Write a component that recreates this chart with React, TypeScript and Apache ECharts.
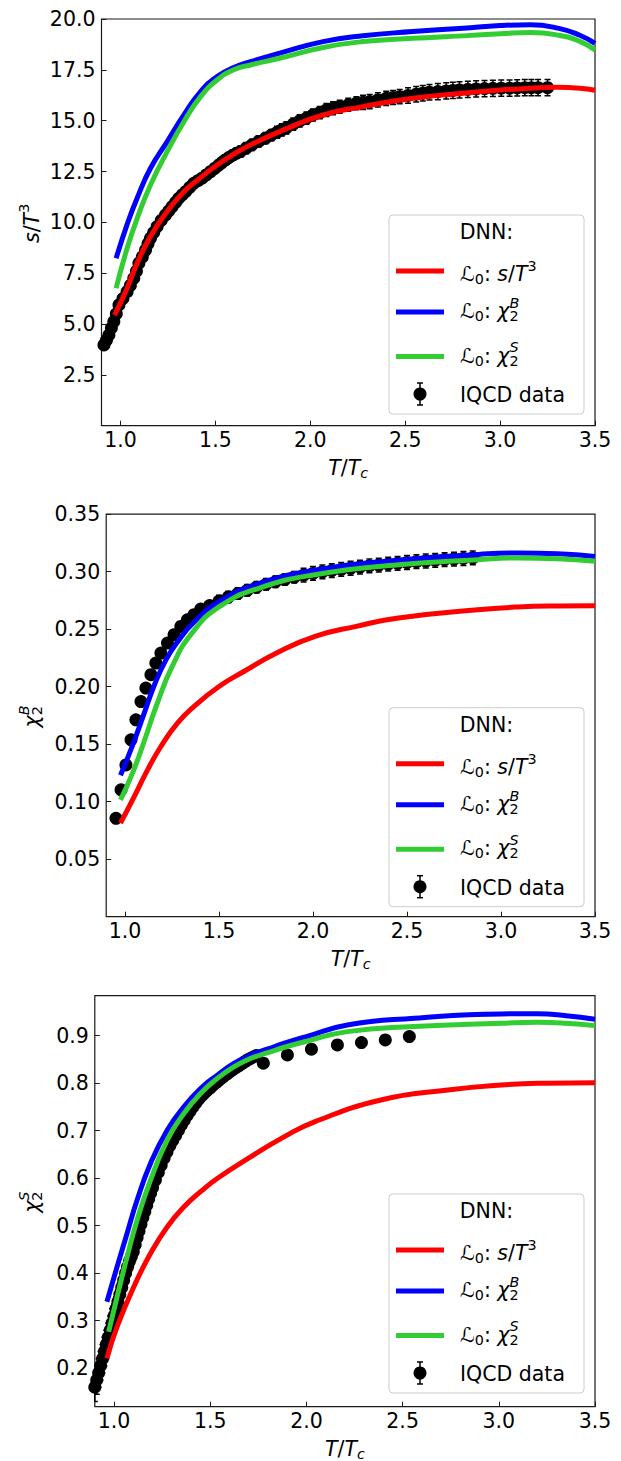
import React, { useEffect, useRef } from "react";
import * as echarts from "echarts";

// ---------- tick values ----------
const X_TICKS = [1.0, 1.5, 2.0, 2.5, 3.0, 3.5];
const Y1_TICKS = [2.5, 5.0, 7.5, 10.0, 12.5, 15.0, 17.5, 20.0];
const Y2_TICKS = [0.05, 0.1, 0.15, 0.2, 0.25, 0.3, 0.35];
const Y3_TICKS = [0.2, 0.3, 0.4, 0.5, 0.6, 0.7, 0.8, 0.9];

// ---------- panel 1: s/T^3 ----------
const S_RED = [[0.969,5.44],[1.035,6.76],[1.088,8.0],[1.158,9.3],[1.246,10.53],[1.334,11.51],[1.422,12.2],[1.509,12.82],[1.597,13.35],[1.685,13.81],[1.86,14.55],[2.067,15.28],[2.277,15.69],[2.54,16.1],[2.804,16.35],[3.0,16.51],[3.1,16.56],[3.3,16.64],[3.42,16.6],[3.5,16.5]];
const S_BLUE = [[0.977,8.23],[1.035,9.9],[1.088,11.2],[1.158,12.66],[1.246,13.97],[1.334,15.28],[1.422,16.43],[1.509,17.17],[1.597,17.61],[1.685,17.9],[1.839,18.32],[2.067,18.89],[2.277,19.18],[2.54,19.38],[2.804,19.55],[3.0,19.68],[3.16,19.72],[3.31,19.54],[3.42,19.2],[3.5,18.8]];
const S_GREEN = [[0.977,6.76],[1.035,8.73],[1.088,10.2],[1.158,11.84],[1.246,13.48],[1.334,14.95],[1.422,16.18],[1.509,17.0],[1.597,17.5],[1.685,17.74],[1.839,18.07],[2.067,18.6],[2.277,18.89],[2.54,19.05],[2.804,19.17],[3.0,19.27],[3.16,19.34],[3.31,19.2],[3.42,18.9],[3.5,18.48]];
const S_IQCD = [[0.913,3.97],[0.926,4.2],[0.939,4.46],[0.952,4.8],[0.965,5.12],[0.978,5.5],[0.992,5.94],[1.013,6.25],[1.035,6.59],[1.052,6.9],[1.07,7.25],[1.084,7.6],[1.097,7.99],[1.115,8.3],[1.132,8.64],[1.145,8.95],[1.158,9.22],[1.175,9.5],[1.193,9.79],[1.215,10.1],[1.237,10.36],[1.255,10.57],[1.272,10.77],[1.29,10.98],[1.307,11.18],[1.325,11.35],[1.343,11.51],[1.365,11.72],[1.386,11.92],[1.408,12.05],[1.43,12.17],[1.452,12.33],[1.474,12.49],[1.496,12.65],[1.518,12.82],[1.536,12.95],[1.553,13.07],[1.572,13.19],[1.592,13.3],[1.612,13.4],[1.632,13.48],[1.662,13.65],[1.693,13.81],[1.728,13.98],[1.764,14.14],[1.795,14.29],[1.825,14.43],[1.85,14.55],[1.874,14.65],[1.91,14.83],[1.944,14.99],[1.98,15.13],[2.014,15.28],[2.05,15.4],[2.085,15.53],[2.12,15.61],[2.155,15.69],[2.2,15.78],[2.243,15.86],[2.278,15.9],[2.313,15.94],[2.356,16.02],[2.4,16.1],[2.436,16.14],[2.471,16.18],[2.515,16.24],[2.558,16.3],[2.593,16.35],[2.628,16.4],[2.672,16.43],[2.716,16.46],[2.751,16.49],[2.786,16.51],[2.83,16.54],[2.874,16.56],[2.918,16.58],[2.962,16.59],[3.006,16.6],[3.05,16.6],[3.09,16.61],[3.13,16.62],[3.165,16.62],[3.2,16.62],[3.25,16.62]];
const S_ERR = [0.22,0.22,0.22,0.22,0.22,0.22,0.22,0.22,0.22,0.22,0.22,0.22,0.22,0.22,0.22,0.22,0.22,0.22,0.22,0.22,0.22,0.22,0.22,0.22,0.22,0.22,0.22,0.22,0.22,0.22,0.25,0.25,0.25,0.25,0.25,0.25,0.25,0.25,0.25,0.25,0.28,0.28,0.28,0.28,0.28,0.28,0.3,0.3,0.3,0.3,0.3,0.3,0.3,0.3,0.32,0.32,0.32,0.32,0.32,0.35,0.35,0.35,0.35,0.35,0.35,0.38,0.38,0.38,0.38,0.4,0.4,0.4,0.4,0.4,0.4,0.4,0.4,0.4,0.4,0.4,0.4,0.4,0.4,0.4];

// ---------- panel 2: chi2B ----------
const B_RED = [[0.976,0.0813],[1.049,0.1044],[1.12,0.1277],[1.191,0.148],[1.279,0.1683],[1.367,0.1828],[1.5,0.2002],[1.632,0.2132],[1.809,0.2295],[2.011,0.2437],[2.23,0.2525],[2.454,0.2597],[2.876,0.2669],[3.088,0.2693],[3.3,0.2702],[3.5,0.2704]];
const B_BLUE = [[0.976,0.123],[1.04,0.149],[1.1,0.176],[1.16,0.203],[1.22,0.224],[1.28,0.239],[1.36,0.255],[1.5,0.274],[1.7,0.289],[2.0,0.301],[2.45,0.31],[2.88,0.315],[3.09,0.3163],[3.3,0.3157],[3.5,0.3133]];
const B_GREEN = [[0.976,0.1016],[1.04,0.1248],[1.103,0.153],[1.166,0.183],[1.251,0.2176],[1.356,0.2466],[1.504,0.2698],[1.715,0.2858],[2.011,0.2974],[2.454,0.3061],[2.876,0.3104],[3.088,0.3119],[3.299,0.3113],[3.5,0.309]];
const B_IQCD = [[0.952,0.0856],[0.979,0.1103],[1.005,0.132],[1.032,0.1538],[1.058,0.1712],[1.085,0.1871],[1.111,0.1988],[1.138,0.2104],[1.164,0.2205],[1.191,0.2292],[1.226,0.2379],[1.261,0.2452],[1.297,0.2524],[1.332,0.2582],[1.367,0.2626],[1.403,0.2675],[1.45,0.2705],[1.5,0.2745],[1.55,0.278],[1.6,0.281],[1.65,0.2838],[1.7,0.2865],[1.75,0.289],[1.8,0.2912],[1.85,0.2932],[1.9,0.2952],[1.95,0.297],[2.0,0.2985],[2.05,0.2998],[2.1,0.301],[2.15,0.302],[2.2,0.303],[2.25,0.304],[2.3,0.305],[2.35,0.3058],[2.4,0.3066],[2.45,0.3073],[2.5,0.308],[2.55,0.3087],[2.6,0.3093],[2.65,0.3099],[2.7,0.3105],[2.75,0.311],[2.8,0.3115],[2.85,0.312]];
const B_ERR = [0.003,0.003,0.003,0.003,0.003,0.003,0.003,0.003,0.003,0.003,0.004,0.004,0.004,0.004,0.004,0.004,0.004,0.005,0.005,0.005,0.005,0.005,0.005,0.005,0.005,0.005,0.006,0.006,0.006,0.006,0.006,0.006,0.006,0.006,0.006,0.006,0.006,0.006,0.006,0.006,0.006,0.006,0.006,0.006,0.006];

// ---------- panel 3: chi2S ----------
const C_RED = [[0.963,0.2208],[1.016,0.2874],[1.103,0.3716],[1.19,0.4419],[1.277,0.4979],[1.364,0.54],[1.451,0.572],[1.538,0.5998],[1.712,0.6453],[1.886,0.6874],[2.039,0.718],[2.387,0.7646],[2.735,0.7857],[3.013,0.7962],[3.25,0.8],[3.5,0.801]];
const C_BLUE = [[0.963,0.34],[1.016,0.4137],[1.068,0.484],[1.12,0.554],[1.19,0.6313],[1.277,0.7015],[1.364,0.7505],[1.451,0.7893],[1.538,0.8173],[1.625,0.8419],[1.712,0.8594],[1.8,0.872],[1.886,0.884],[2.0,0.898],[2.213,0.9225],[2.56,0.9366],[3.013,0.9457],[3.2,0.946],[3.35,0.942],[3.5,0.9345]];
const C_GREEN = [[0.972,0.2768],[1.016,0.3505],[1.068,0.4347],[1.12,0.512],[1.19,0.5962],[1.277,0.6804],[1.364,0.7366],[1.451,0.7787],[1.538,0.8103],[1.625,0.8347],[1.712,0.8524],[1.8,0.864],[1.886,0.8755],[2.0,0.888],[2.213,0.9084],[2.56,0.919],[3.013,0.926],[3.2,0.928],[3.35,0.926],[3.5,0.921]];
const C_IQCD = [[0.9,0.16],[0.91,0.175],[0.92,0.19],[0.93,0.205],[0.94,0.22],[0.95,0.235],[0.96,0.25],[0.97,0.265],[0.98,0.28],[0.99,0.295],[1.0,0.31],[1.01,0.325],[1.02,0.34],[1.03,0.355],[1.04,0.37],[1.05,0.385],[1.06,0.4],[1.07,0.413],[1.08,0.425],[1.09,0.435],[1.1,0.445],[1.11,0.46],[1.12,0.475],[1.13,0.489],[1.14,0.503],[1.15,0.517],[1.16,0.53],[1.17,0.543],[1.18,0.556],[1.19,0.568],[1.2,0.58],[1.215,0.596],[1.23,0.612],[1.245,0.627],[1.26,0.642],[1.275,0.655],[1.29,0.668],[1.305,0.679],[1.32,0.69],[1.335,0.701],[1.35,0.712],[1.365,0.722],[1.38,0.732],[1.395,0.741],[1.41,0.75],[1.425,0.758],[1.44,0.766],[1.455,0.773],[1.47,0.779],[1.485,0.785],[1.5,0.79],[1.515,0.796],[1.53,0.801],[1.545,0.806],[1.56,0.811],[1.575,0.816],[1.59,0.82],[1.605,0.825],[1.62,0.829],[1.635,0.833],[1.65,0.837],[1.665,0.841],[1.68,0.845],[1.695,0.849],[1.71,0.852],[1.725,0.855],[1.74,0.858],[1.776,0.842],[1.901,0.8594],[2.026,0.8714],[2.161,0.8804],[2.286,0.8853],[2.41,0.891],[2.535,0.898]];
const C_ERR = [0.03,0.03,0.03,0.03,0.03,0.03,0.03,0.03,0.03,0.03,0.025,0.025,0.025,0.025,0.02,0.02,0.02,0.02,0.02,0.02,0.02,0.015,0.015,0.015,0.015,0.015,0.015,0.015,0.015,0.012,0.012,0.012,0.012,0.012,0.012,0.01,0.01,0.01,0.01,0.01,0.01,0.01,0.01,0.008,0.008,0.008,0.008,0.008,0.008,0.008,0.008,0.008,0.008,0.008,0.008,0.008,0.008,0.008,0.008,0.008,0.008,0.008,0.008,0.008,0.008,0.008,0.008,0.005,0.005,0.005,0.005,0.005,0.005,0.005,0.005];

const FONT = '"DejaVu Sans", sans-serif';
const FS = 20.5;
const RED = "#ff0000";
const BLUE = "#0000ff";
const GREEN = "#32cd32";

let measureCtx: CanvasRenderingContext2D | null = null;
function textWidth(t: string, size: number, italic: boolean) {
  if (!measureCtx) measureCtx = document.createElement("canvas").getContext("2d");
  measureCtx!.font = `${italic ? "italic " : ""}${size}px "DejaVu Sans"`;
  return measureCtx!.measureText(t).width;
}

type Piece = { t: string; it?: boolean; k?: "sub" | "sup"; stack?: boolean };

function mathLabel(pieces: Piece[], size: number, x: number, y: number, align: "left" | "center", rotation = 0) {
  const small = size * 0.7;
  const els: any[] = [];
  let cx = 0;
  let lastX = 0;
  for (const p of pieces) {
    const s = p.k ? small : size;
    const w = textWidth(p.t, s, !!p.it);
    const px = p.stack ? lastX : cx;
    const dy = p.k === "sub" ? size * 0.25 : p.k === "sup" ? -size * 0.4 : 0;
    els.push({
      type: "text",
      z: 120,
      x: px,
      y: dy,
      style: {
        text: p.t,
        fontSize: s,
        fontFamily: FONT,
        fontStyle: p.it ? "italic" : "normal",
        fill: "#000",
        align: "left",
        verticalAlign: "middle",
      },
    });
    if (p.stack) cx = Math.max(cx, px + w);
    else {
      lastX = px;
      cx = px + w;
    }
  }
  const shift = align === "center" ? -cx / 2 : 0;
  els.forEach((e) => (e.x += shift));
  return { type: "group", x, y, rotation, z: 120, children: els };
}

const L_RED: Piece[] = [{ t: "ℒ" }, { t: "0", k: "sub" }, { t: ": " }, { t: "s", it: true }, { t: "/" }, { t: "T", it: true }, { t: "3", k: "sup" }];
const L_BLUE: Piece[] = [{ t: "ℒ" }, { t: "0", k: "sub" }, { t: ": " }, { t: "χ", it: true }, { t: "2", k: "sub" }, { t: "B", k: "sup", it: true, stack: true }];
const L_GREEN: Piece[] = [{ t: "ℒ" }, { t: "0", k: "sub" }, { t: ": " }, { t: "χ", it: true }, { t: "2", k: "sub" }, { t: "S", k: "sup", it: true, stack: true }];
const X_NAME: Piece[] = [{ t: "T", it: true }, { t: "/" }, { t: "T", it: true }, { t: "c", k: "sub", it: true }];
const Y_NAMES: Piece[][] = [
  [{ t: "s", it: true }, { t: "/" }, { t: "T", it: true }, { t: "3", k: "sup" }],
  [{ t: "χ", it: true }, { t: "2", k: "sub" }, { t: "B", k: "sup", it: true, stack: true }],
  [{ t: "χ", it: true }, { t: "2", k: "sub" }, { t: "S", k: "sup", it: true, stack: true }],
];

function legend(L: number, T: number) {
  const W = 195;
  const H = 199;
  const els: any[] = [];
  els.push({
    type: "rect",
    z: 100,
    shape: { x: L, y: T, width: W, height: H, r: 4 },
    style: { fill: "rgba(255,255,255,0.8)", stroke: "#cccccc", lineWidth: 1 },
  });
  els.push({
    type: "text",
    z: 120,
    x: L + W / 2,
    y: T + 17,
    style: { text: "DNN:", fontSize: FS, fontFamily: FONT, fill: "#000", align: "center", verticalAlign: "middle" },
  });
  const rows: [string, number, Piece[], number][] = [
    [RED, 56, L_RED, 3],
    [BLUE, 97, L_BLUE, -1],
    [GREEN, 141.5, L_GREEN, -1],
  ];
  for (const [c, dy, pieces, off] of rows) {
    els.push({
      type: "line",
      z: 120,
      shape: { x1: L + 7, y1: T + dy, x2: L + 55, y2: T + dy },
      style: { stroke: c, lineWidth: 5 },
    });
    els.push(mathLabel(pieces, FS, L + 71, T + dy + off, "left"));
  }
  const mx = L + 31;
  const my = T + 179;
  const st = { stroke: "#000", lineWidth: 1.5 };
  els.push({ type: "line", z: 120, shape: { x1: mx, y1: my - 11, x2: mx, y2: my + 11 }, style: st });
  els.push({ type: "line", z: 120, shape: { x1: mx - 3, y1: my - 11, x2: mx + 3, y2: my - 11 }, style: st });
  els.push({ type: "line", z: 120, shape: { x1: mx - 3, y1: my + 11, x2: mx + 3, y2: my + 11 }, style: st });
  els.push({ type: "circle", z: 121, shape: { cx: mx, cy: my, r: 6.5 }, style: { fill: "#000" } });
  els.push({
    type: "text",
    z: 120,
    x: L + 71,
    y: my + 1,
    style: { text: "IQCD data", fontSize: FS, fontFamily: FONT, fill: "#000", align: "left", verticalAlign: "middle" },
  });
  return els;
}

const GRIDS = [
  { left: 101.5, top: 19, width: 493.5, height: 406.7 },
  { left: 106.2, top: 514.2, width: 488.8, height: 402.5 },
  { left: 94.8, top: 995.7, width: 500.2, height: 411 },
];

function errRender(params: any, api: any) {
  const x = api.value(0);
  const y = api.value(1);
  const e = api.value(2);
  const a = api.coord([x, y + e]);
  const b = api.coord([x, y - e]);
  const st = { stroke: "#000", lineWidth: 1.5 };
  return {
    type: "group",
    children: [
      { type: "line", shape: { x1: a[0], y1: a[1], x2: b[0], y2: b[1] }, style: st },
      { type: "line", shape: { x1: a[0] - 3, y1: a[1], x2: a[0] + 3, y2: a[1] }, style: st },
      { type: "line", shape: { x1: b[0] - 3, y1: b[1], x2: b[0] + 3, y2: b[1] }, style: st },
    ],
  };
}

function panelSeries(idx: number, red: number[][], blue: number[][], green: number[][], pts: number[][], err: number[]) {
  const line = (data: number[][], color: string, z: number) => ({
    type: "line",
    data,
    xAxisIndex: idx,
    yAxisIndex: idx,
    showSymbol: false,
    symbol: "none",
    smooth: 0.5,
    lineStyle: { color, width: 5, cap: "butt", join: "round" },
    itemStyle: { color },
    z,
    silent: true,
    clip: true,
  });
  return [
    {
      type: "custom",
      xAxisIndex: idx,
      yAxisIndex: idx,
      data: pts.map((p, i) => [p[0], p[1], err[i]]),
      renderItem: errRender,
      z: 2,
      silent: true,
      clip: true,
    },
    {
      type: "scatter",
      xAxisIndex: idx,
      yAxisIndex: idx,
      data: pts,
      symbol: "circle",
      symbolSize: 13,
      itemStyle: { color: "#000", opacity: 1 },
      z: 3,
      silent: true,
      clip: true,
    },
    line(red, RED, 4),
    line(blue, BLUE, 5),
    line(green, GREEN, 6),
  ];
}

export default function App() {
  const ref = useRef<HTMLDivElement>(null);
  useEffect(() => {
    if (!ref.current) return;
    const chart = echarts.init(ref.current, undefined, { renderer: "svg" });
    const yCfg = [
      { min: 0, max: 20, ticks: Y1_TICKS, dec: 1 },
      { min: 0, max: 0.35, ticks: Y2_TICKS, dec: 2 },
      { min: 0.119, max: 0.984, ticks: Y3_TICKS, dec: 1 },
    ];
    const graphic: any[] = [];
    GRIDS.forEach((g, i) => {
      const bottom = g.top + g.height;
      graphic.push(mathLabel(X_NAME, FS, g.left + g.width / 2, bottom + 42, "center"));
      graphic.push(mathLabel(Y_NAMES[i], FS, 32, g.top + g.height / 2 + 1, "center", Math.PI / 2));
    });
    graphic.push(...legend(389, 215));
    graphic.push(...legend(389, 707.7));
    graphic.push(...legend(389, 1194));

    const option: any = {
      animation: false,
      backgroundColor: "#ffffff",
      grid: GRIDS.map((g) => ({
        ...g,
        show: true,
        borderColor: "#1a1a1a",
        borderWidth: 1.2,
        backgroundColor: "transparent",
        containLabel: false,
        outerBoundsMode: "none",
      })),
      xAxis: GRIDS.map((_, i) => ({
        type: "value",
        gridIndex: i,
        min: 0.9,
        max: 3.5,
        axisLine: { show: false, onZero: false },
        splitLine: { show: false },
        axisTick: { show: true, inside: true, length: 5, customValues: X_TICKS, lineStyle: { color: "#1a1a1a", width: 1 } },
        axisLabel: {
          customValues: X_TICKS,
          formatter: (v: number) => v.toFixed(1),
          color: "#000",
          fontSize: FS,
          fontFamily: FONT,
          margin: 4,
          showMinLabel: true,
          showMaxLabel: true,
        },
      })),
      yAxis: yCfg.map((c, i) => ({
        type: "value",
        gridIndex: i,
        min: c.min,
        max: c.max,
        axisLine: { show: false, onZero: false },
        splitLine: { show: false },
        axisTick: { show: true, inside: true, length: 5, customValues: c.ticks, lineStyle: { color: "#1a1a1a", width: 1 } },
        axisLabel: {
          customValues: c.ticks,
          formatter: (v: number) => v.toFixed(c.dec),
          color: "#000",
          fontSize: FS,
          fontFamily: FONT,
          margin: 6,
          showMinLabel: true,
          showMaxLabel: true,
        },
      })),
      series: [
        ...panelSeries(0, S_RED, S_BLUE, S_GREEN, S_IQCD, S_ERR),
        ...panelSeries(1, B_RED, B_BLUE, B_GREEN, B_IQCD, B_ERR),
        ...panelSeries(2, C_RED, C_BLUE, C_GREEN, C_IQCD, C_ERR),
      ],
      graphic,
    };
    chart.setOption(option);
    return () => chart.dispose();
  }, []);
  return <div ref={ref} style={{ position: "absolute", left: 0, top: 0, width: 621, height: 1461, background: "#fff" }} />;
}
